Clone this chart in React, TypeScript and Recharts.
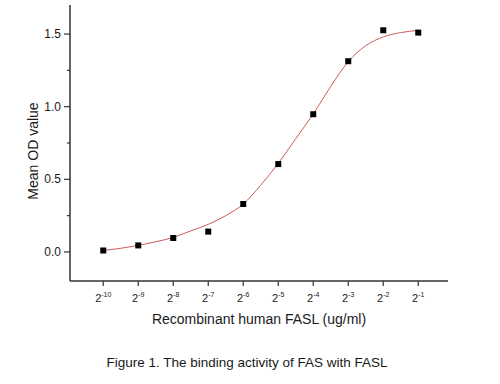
import { ComposedChart, Line, Scatter, XAxis, YAxis } from "recharts";

// log2 of FASL concentration (ug/ml)
const exponents = [-10, -9, -8, -7, -6, -5, -4, -3, -2, -1];
const meanOD = [0.01, 0.045, 0.096, 0.14, 0.33, 0.605, 0.948, 1.313, 1.526, 1.51];

// fitted curve at half-step intervals
const fitX = [-10, -9.5, -9, -8.5, -8, -7.5, -7, -6.5, -6, -5.5, -5, -4.5, -4, -3.5, -3, -2.5, -2, -1.5, -1];
const fitY = [0.01, 0.025, 0.045, 0.07, 0.1, 0.145, 0.19, 0.25, 0.33, 0.46, 0.61, 0.78, 0.95, 1.14, 1.31, 1.42, 1.48, 1.51, 1.525];

const yTicks = [0, 0.25, 0.5, 0.75, 1, 1.25, 1.5];

const points = exponents.map((x, i) => ({ x, y: meanOD[i] }));
const curve = fitX.map((x, i) => ({ x, y: fitY[i] }));

const FONT = '"Liberation Sans", Arial, sans-serif';
const INK = "#1a1a1a";
const AXIS = "#333";

function YTick(props: any) {
  const { x, y, payload } = props;
  const ax = x + 9;
  const major = Math.abs(payload.value * 2 - Math.round(payload.value * 2)) < 1e-6;
  return (
    <g>
      <line x1={ax - (major ? 6 : 3)} x2={ax} y1={y} y2={y} stroke={AXIS} strokeWidth={1.2} />
      {major && (
        <text x={x} y={y} dy={4} textAnchor="end" fontSize={12} fill={INK} fontFamily={FONT}>
          {payload.value.toFixed(1)}
        </text>
      )}
    </g>
  );
}

function XTick(props: any) {
  const { x, y, payload } = props;
  const ay = y - 7;
  return (
    <g>
      <line x1={x} x2={x} y1={ay} y2={ay + 5} stroke={AXIS} strokeWidth={1.2} />
      <text x={x} y={ay + 21} textAnchor="middle" fontSize={11} fill={INK} fontFamily={FONT}>
        <tspan>2</tspan>
        <tspan dy={-5} fontSize={7}>{payload.value}</tspan>
      </text>
    </g>
  );
}

const square = (p: any) => <rect x={p.cx - 3} y={p.cy - 3} width={6} height={6} fill="#000" />;

export default function App() {
  return (
    <div style={{ position: "absolute", left: 0, top: 0, width: 500, height: 384, background: "#fff" }}>
      <ComposedChart width={500} height={384} margin={{ top: 5, right: 52, bottom: 58, left: 0 }}>
        <XAxis
          type="number"
          dataKey="x"
          domain={[-10.95, -0.15]}
          ticks={exponents}
          allowDataOverflow
          height={45}
          tickSize={5}
          tickMargin={2}
          tickLine={false}
          tick={<XTick />}
          axisLine={{ stroke: AXIS, strokeWidth: 1.5 }}
          label={{ value: "Recombinant human FASL (ug/ml)", position: "insideBottom", offset: 2, fontSize: 14, fill: INK, fontFamily: FONT }}
        />
        <YAxis
          type="number"
          dataKey="y"
          domain={[-0.2, 1.7]}
          ticks={yTicks}
          allowDataOverflow
          width={70}
          tickSize={6}
          tickMargin={3}
          tickLine={false}
          tick={<YTick />}
          axisLine={{ stroke: AXIS, strokeWidth: 1.5 }}
        />
        <Line
          data={curve}
          dataKey="y"
          type="monotone"
          stroke="#d05a5a"
          strokeWidth={1}
          dot={false}
          activeDot={false}
          isAnimationActive={false}
        />
        <Scatter data={points} dataKey="y" shape={square} isAnimationActive={false} />
      </ComposedChart>
      <svg width={500} height={384} style={{ position: "absolute", left: 0, top: 0, pointerEvents: "none" }}>
        <text x={38} y={151} transform="rotate(-90, 38, 151)" textAnchor="middle" fontSize={14} fill={INK} fontFamily={FONT}>
          Mean OD value
        </text>
        <text x={247} y={367} textAnchor="middle" fontSize={13.5} fill={INK} fontFamily={FONT}>
          Figure 1. The binding activity of FAS with FASL
        </text>
      </svg>
    </div>
  );
}
